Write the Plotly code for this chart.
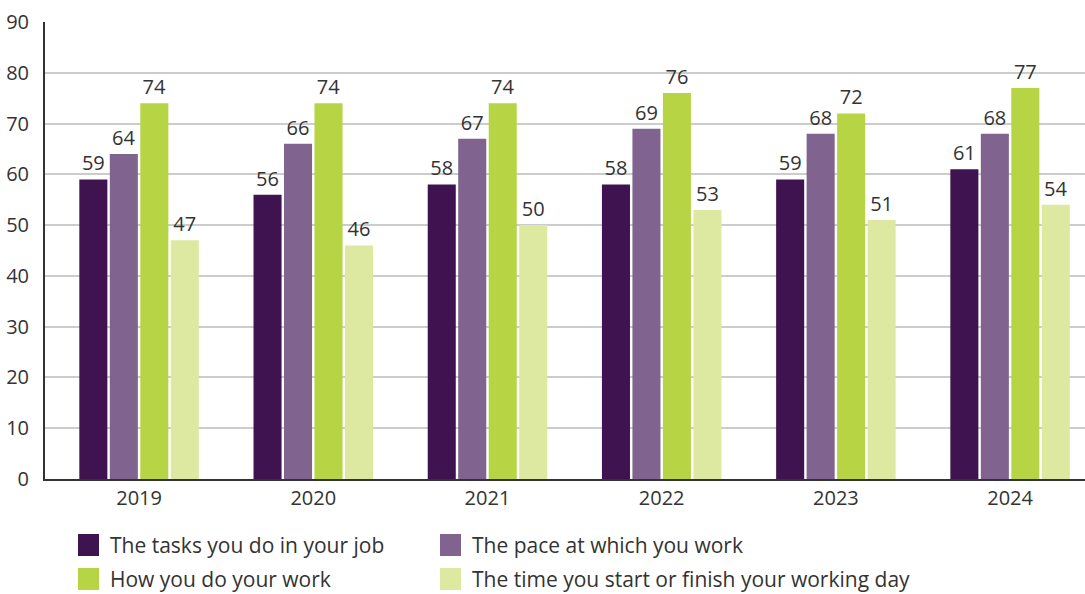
import plotly.graph_objects as go

years = ["2019", "2020", "2021", "2022", "2023", "2024"]
tasks = [59, 56, 58, 58, 59, 61]
pace = [64, 66, 67, 69, 68, 68]
how = [74, 74, 74, 76, 72, 77]
start_finish = [47, 46, 50, 53, 51, 54]

series_names = [
    "The tasks you do in your job",
    "The pace at which you work",
    "How you do your work",
    "The time you start or finish your working day",
]
series_values = [tasks, pace, how, start_finish]
colors = ["#3F1250", "#80648F", "#B6D443", "#DDE9A0"]

FONT = "Open Sans"
TEXT = "#333333"
W, H = 1085, 594
ML, MR, MT, MB = 45, 0, 22, 115
PW, PH = W - ML - MR, H - MT - MB

fig = go.Figure()
for name, vals, col in zip(series_names, series_values, colors):
    fig.add_trace(go.Bar(
        x=years, y=vals, name=name, marker=dict(color=col, line=dict(width=0)),
        text=vals, texttemplate="%{text}", textposition="outside",
        constraintext="none", cliponaxis=False,
        textfont=dict(family=FONT, size=20, color=TEXT),
        showlegend=False,
    ))

# legend drawn as swatches + labels below the plot
def px_x(p):
    return (p - ML) / PW

def px_y(p):
    return (H - MB - p) / PH

legend_pos = [(78, 545), (440, 545), (78, 579), (440, 579)]
shapes = []
annotations = []
for (lx, ly), name, col in zip(legend_pos, series_names, colors):
    shapes.append(dict(type="rect", xref="paper", yref="paper",
                       x0=px_x(lx), x1=px_x(lx + 21), y0=px_y(ly - 11), y1=px_y(ly + 11),
                       fillcolor=col, line=dict(width=0)))
    annotations.append(dict(xref="paper", yref="paper", x=px_x(lx + 30), y=px_y(ly),
                            text=name, showarrow=False, xanchor="left", yanchor="middle",
                            font=dict(family=FONT, size=21, color=TEXT)))

fig.update_layout(
    width=W, height=H,
    margin=dict(l=ML, r=MR, t=MT, b=MB),
    paper_bgcolor="white", plot_bgcolor="white",
    barmode="group", bargap=0.3, bargroupgap=0.08,
    font=dict(family=FONT, size=20, color=TEXT),
    shapes=shapes, annotations=annotations,
    xaxis=dict(range=[-0.54, 5.43], showgrid=False, showline=True, linecolor="#333333",
               linewidth=2, ticks="", tickfont=dict(family=FONT, size=20, color=TEXT)),
    yaxis=dict(range=[0, 90], dtick=10, showgrid=True, gridcolor="#CCCCCC", gridwidth=1.5,
               showline=True, linecolor="#333333", linewidth=2, ticks="",
               ticklabelstandoff=10, zeroline=False,
               tickfont=dict(family=FONT, size=20, color=TEXT)),
)

fig.write_html("out.html")
